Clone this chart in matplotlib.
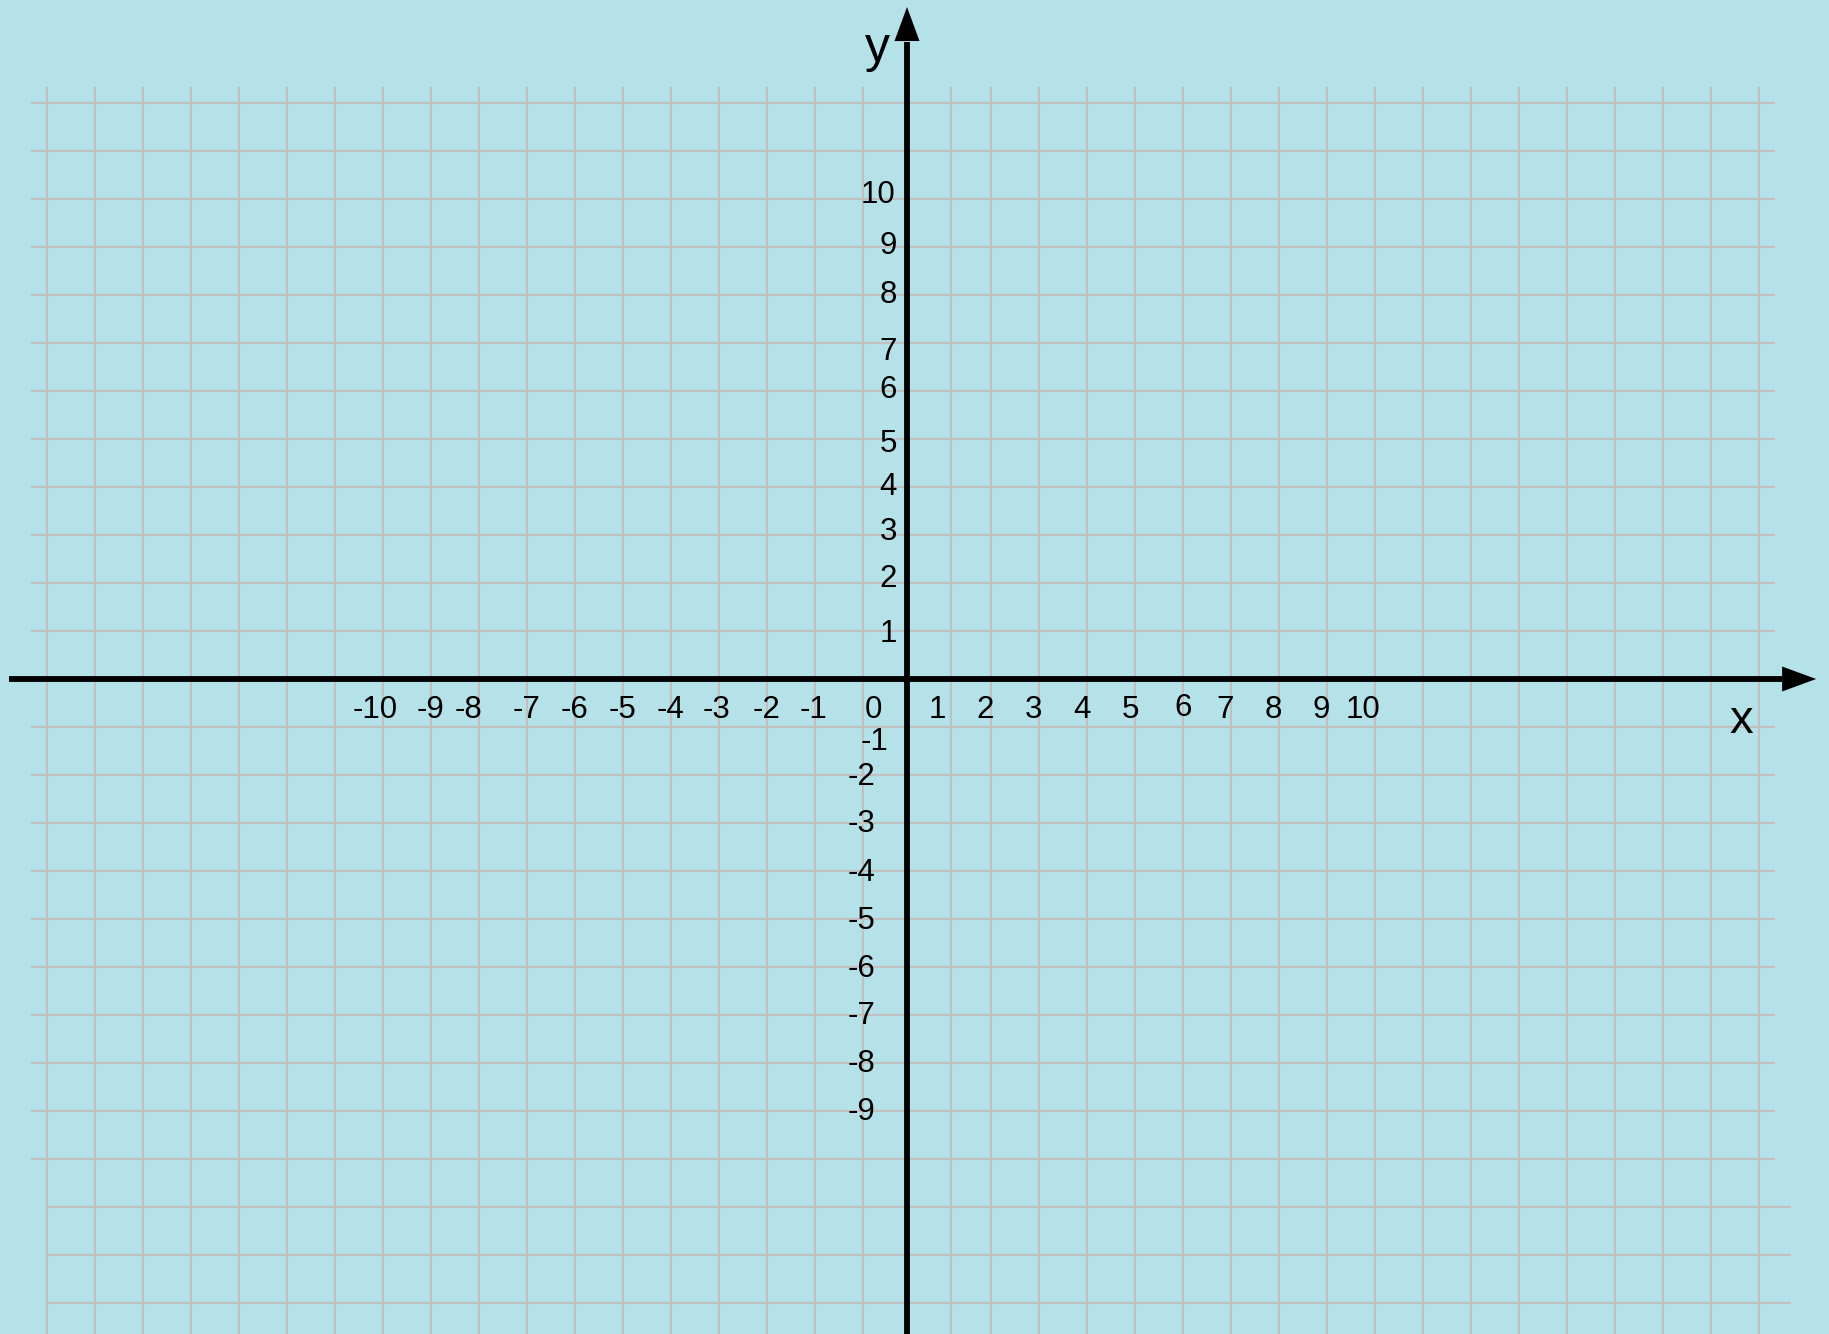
import matplotlib
matplotlib.use("Agg")
import matplotlib.pyplot as plt

plt.rcParams['font.family'] = ['Liberation Sans', 'DejaVu Sans']

# ---- data (grid units; origin at axes crossing) ----
grid_x_left = [-17.917 + k for k in range(18)]
grid_x_right = [0.917] + [1.75 + k for k in range(17)]
grid_x = grid_x_left + grid_x_right
grid_x_top = 12.333

grid_y_upper = list(range(12, -11, -1))     # lines 12 .. -10
grid_y_lower = [-11, -12, -13]
grid_y_upper_span = (-18.25, 18.083)
grid_y_lower_span = (-17.917, 18.417)

x_tick_labels = ['-10', '-9', '-8', '-7', '-6', '-5', '-4', '-3', '-2', '-1', '0',
                 '1', '2', '3', '4', '5', '6', '7', '8', '9', '10']
x_tick_pos = [-11.075, -9.927, -9.146, -7.917, -6.931, -5.917, -4.921, -3.979, -2.929, -1.944, -0.708,
              0.63, 1.63, 2.64, 3.65, 4.66, 5.76, 6.62, 7.63, 8.63, 9.51]
x_tick_base = [-0.8125] * 16 + [-0.78] + [-0.8125] * 4

y_tick_labels = ['10', '9', '8', '7', '6', '5', '4', '3', '2', '1',
                 '-1', '-2', '-3', '-4', '-5', '-6', '-7', '-8', '-9']
y_tick_pos = [9.91, 8.85, 7.84, 6.65, 5.86, 4.73, 3.84, 2.89, 1.92, 0.78,
              -1.47, -2.20, -3.19, -4.20, -5.21, -6.20, -7.19, -8.19, -9.18]
y_tick_right = [-0.25] + [-0.208] * 9 + [-0.39] + [-0.65] * 8

x_axis_span = (-18.708, 18.23, 18.94)   # start, arrow base, arrow tip
y_axis_span = (-14.0, 13.27, 14.0)
x_label = ('x', 17.375, -1.12)
y_label = ('y', -0.625, 12.86)

xlim = (-18.896, 19.208)
ylim = (-13.646, 14.146)

BG = '#b5e1e8'
GRID = '#c2bfc0'
TICK_FS = 22.5

fig = plt.figure(figsize=(18.29, 13.34), dpi=100, facecolor=BG)
ax = fig.add_axes([0, 0, 1, 1])
ax.set_facecolor(BG)
ax.set_xlim(*xlim)
ax.set_ylim(*ylim)
ax.axis('off')

# grid
for gx in grid_x:
    ax.plot([gx, gx], [ylim[0], grid_x_top], color=GRID, lw=1.5, zorder=1,
            solid_capstyle='butt')
for gy in grid_y_upper:
    ax.plot(grid_y_upper_span, [gy, gy], color=GRID, lw=1.5, zorder=1,
            solid_capstyle='butt')
for gy in grid_y_lower:
    ax.plot(grid_y_lower_span, [gy, gy], color=GRID, lw=1.5, zorder=1,
            solid_capstyle='butt')

# axes lines
ax.plot([x_axis_span[0], x_axis_span[1]], [0, 0], color='black', lw=4.2,
        solid_capstyle='butt', zorder=3)
ax.plot([0, 0], [y_axis_span[0], y_axis_span[1]], color='black', lw=4.2,
        solid_capstyle='butt', zorder=3)
head = dict(arrowstyle='-|>,head_length=2.45,head_width=0.9', mutation_scale=10,
            lw=0, fc='black', ec='none', shrinkA=0, shrinkB=0)
ax.annotate('', xy=(x_axis_span[2], 0), xytext=(x_axis_span[1] - 0.01, 0),
            arrowprops=head, zorder=4)
ax.annotate('', xy=(0, y_axis_span[2]), xytext=(0, y_axis_span[1] - 0.01),
            arrowprops=head, zorder=4)

# tick labels
for lab, px, py in zip(x_tick_labels, x_tick_pos, x_tick_base):
    ax.text(px, py, lab, ha='center', va='baseline', fontsize=TICK_FS, zorder=5)
for lab, py, px in zip(y_tick_labels, y_tick_pos, y_tick_right):
    ax.text(px, py, lab, ha='right', va='baseline', fontsize=TICK_FS, zorder=5)

ax.text(x_label[1], x_label[2], x_label[0], ha='center', va='baseline', fontsize=34, zorder=5)
ax.text(y_label[1], y_label[2], y_label[0], ha='center', va='baseline', fontsize=36, zorder=5)

fig.savefig('out.png', dpi=100, facecolor=BG)
